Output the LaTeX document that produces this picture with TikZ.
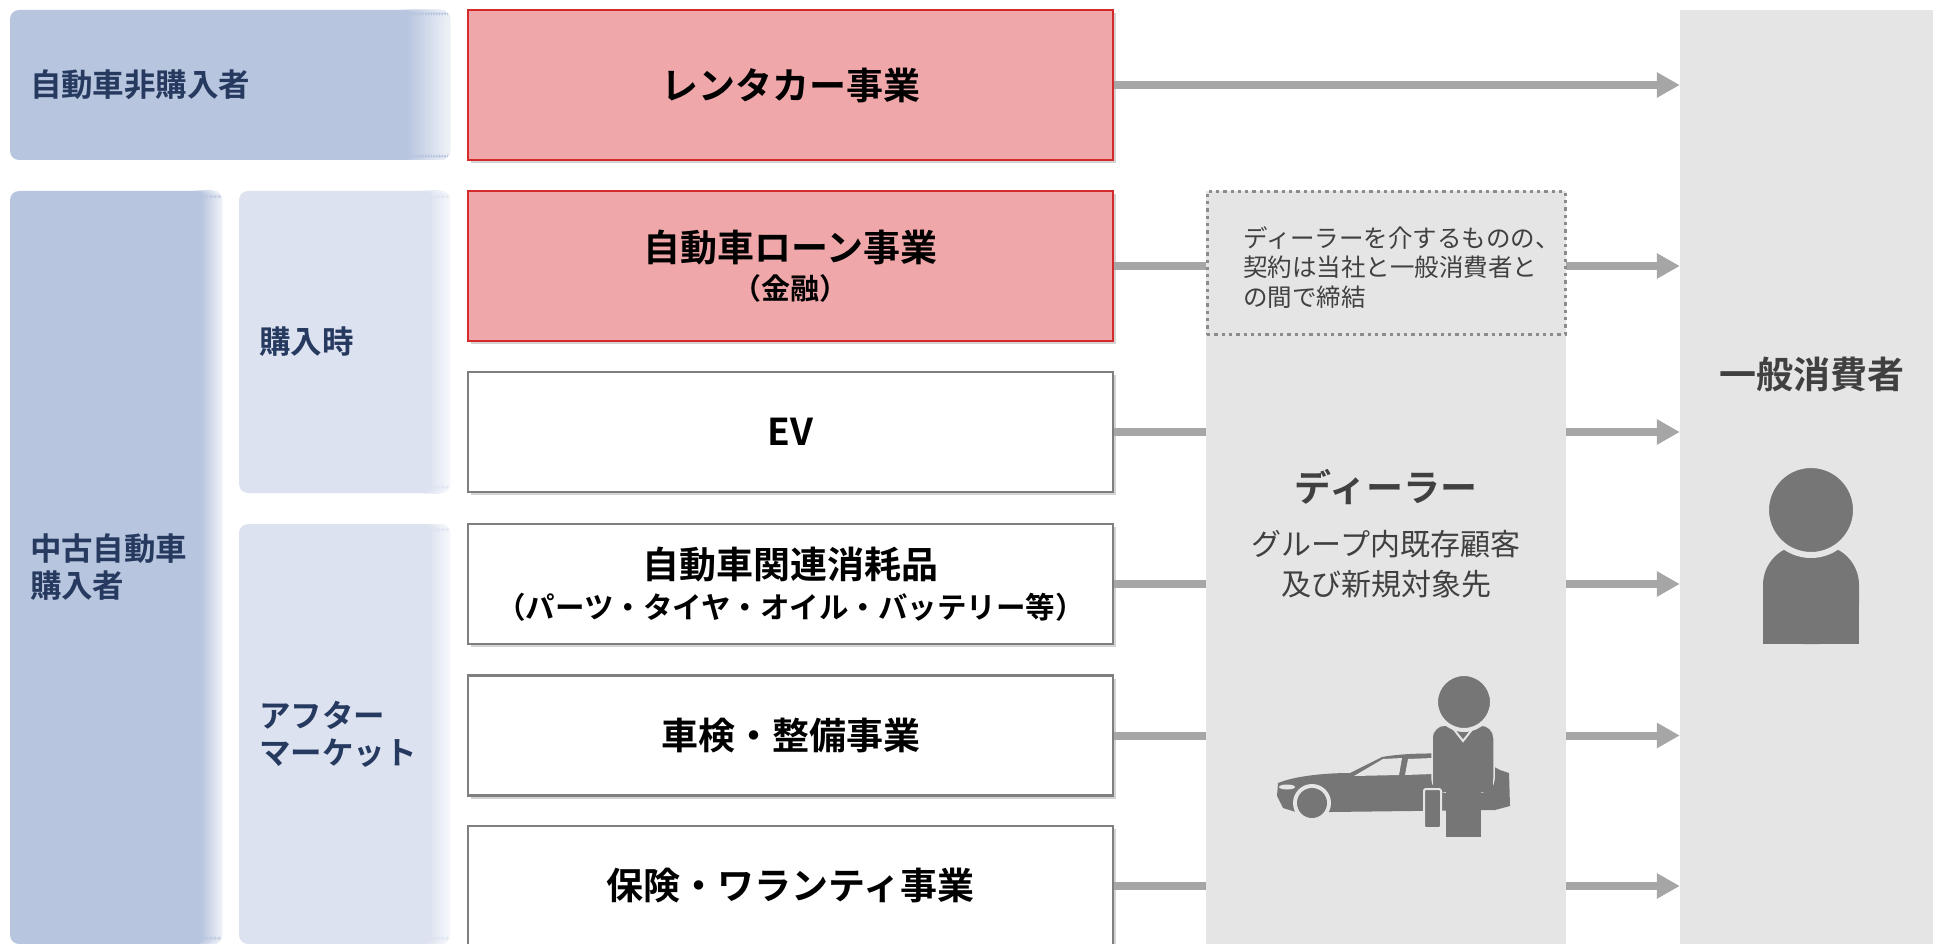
\documentclass[tikz,border=0pt]{standalone}
\usepackage{fontspec}
\usepackage{xcolor}
\usepackage{tikz}
\usetikzlibrary{arrows.meta, positioning, calc, shadows}
\setmainfont{Noto Sans CJK JP}[BoldFont={Noto Sans CJK JP Bold}]
\definecolor{navytext}{HTML}{26395F}
\definecolor{grpdark}{HTML}{B8C5DF}
\definecolor{grplight}{HTML}{DCE2F0}
\definecolor{bizred}{HTML}{EFA7AA}
\definecolor{bizrededge}{HTML}{D42A2A}
\definecolor{bizedge}{HTML}{7F7F7F}
\definecolor{colgray}{HTML}{E5E5E5}
\definecolor{flowgray}{HTML}{A6A6A6}
\definecolor{icongray}{HTML}{767676}
\definecolor{textgray}{HTML}{404040}
\newcommand{\pxfont}[2]{\fontsize{#1pt}{#2pt}\selectfont}

\begin{document}
\begin{tikzpicture}[x=1pt, y=-1pt,
    grp/.style={rectangle, rounded corners=9pt, fill=#1, align=left, inner xsep=20pt,
                font=\pxfont{31.5}{37}\bfseries\color{navytext},
                path picture={
                    \foreach \k [evaluate=\k as \mix using int(\k*5)] in {0,...,16}
                      \fill[white!\mix!#1]
                        ($(path picture bounding box.south west)!{0.9+\k*0.00625}!(path picture bounding box.south east)$)
                        rectangle ($(path picture bounding box.north west)!{0.9+(\k+1.4)*0.00625}!(path picture bounding box.north east)$);}},
    biz/.style={rectangle, draw=bizedge, line width=2.5pt, fill=white, align=center,
                minimum width=645pt, minimum height=120pt, font=\pxfont{37}{44}\bfseries,
                drop shadow={shadow xshift=3pt, shadow yshift=-3pt, opacity=0.35}},
    bizhot/.style={biz, draw=bizrededge, fill=bizred, minimum height=150pt},
    column/.style={rectangle, fill=colgray, inner sep=0pt},
    flow/.style={-{Triangle[length=23pt, width=24pt]}, line width=8pt, color=flowgray}
]
\useasboundingbox (0,0) rectangle (1933,944);

% customer groups
\node[grp=grpdark, minimum width=440pt, text width=400pt, minimum height=150pt] (nonbuyer) at (230,85) {自動車非購入者};
\node[grp=grpdark, minimum width=212pt, text width=172pt, minimum height=753pt] (usedbuyer) at (116,567.5) {中古自動車\\購入者};
\node[grp=grplight, minimum width=211pt, text width=171pt, minimum height=302pt] (atpurchase) at (344.5,342) {購入時};
\node[grp=grplight, minimum width=211pt, text width=171pt, minimum height=420pt] (aftermarket) at (344.5,734) {アフター\\マーケット};

% businesses
\node[bizhot] (rental) at (790.5,85) {レンタカー事業};
\node[bizhot] (loan) at (790.5,266) {自動車ローン事業\\[-6pt]{\pxfont{29}{33}（金融）}};
\node[biz] (ev) at (790.5,432) {EV};
\node[biz] (parts) at (790.5,584) {自動車関連消耗品\\[-4pt]{\pxfont{29.5}{35}（パーツ・タイヤ・オイル・バッテリー等）}};
\node[biz] (inspection) at (790.5,735.5) {車検・整備事業};
\node[biz] (insurance) at (790.5,886) {保険・ワランティ事業};

\node[column, minimum width=253pt, minimum height=934pt] (consumer) at (1806.5,477) {};

\draw[flow] (rental) -- (rental -| consumer.west);
\draw[flow] (loan) -- (loan -| consumer.west);
\draw[flow] (ev) -- (ev -| consumer.west);
\draw[flow] (parts) -- (parts -| consumer.west);
\draw[flow] (inspection) -- (inspection -| consumer.west);
\draw[flow] (insurance) -- (insurance -| consumer.west);

\node[column, minimum width=360pt, minimum height=753pt] (dealer) at (1386,567.5) {};
\node[rectangle, draw=bizedge!90, line width=3pt, dash pattern=on 3.3pt off 4pt,
      minimum width=358pt, minimum height=143pt] (note) at (1386,263) {};
\node[font=\pxfont{24.5}{29.5}, color=textgray, align=left, inner sep=0pt, anchor=west]
    (notetext) at (1243,267.5) {ディーラーを介するものの、\\契約は当社と一般消費者と\\の間で締結};
\node[font=\pxfont{37}{44}\bfseries, color=textgray] (dealername) at (1386,487) {ディーラー};
\node[font=\pxfont{30}{40}, color=textgray, align=center] (dealerclients) at (1386,564)
    {グループ内既存顧客\\及び新規対象先};

\node[font=\pxfont{37}{44}\bfseries, color=textgray] (consumername) at (1812,374) {一般消費者};

% consumer figure
\fill[icongray, rounded corners=40pt] (1763,545) rectangle (1859,644);
\fill[icongray] (1763,600) rectangle (1859,644);
\fill[icongray, draw=colgray, line width=6pt] (1811,510) circle[radius=45pt];

% dealer with car
\fill[icongray] (1277,796) -- (1278,783) .. controls (1295,776) and (1325,773) .. (1350,773)
    -- (1382,757) .. controls (1405,753) and (1430,753) .. (1470,754) -- (1500,770)
    -- (1509,773) -- (1510,806) -- (1495,810) -- (1330,812) -- (1296,812) -- (1283,808) -- cycle;
\fill[colgray] (1354,776) -- (1383,759) -- (1402,758) -- (1399,775) -- cycle;
\fill[colgray] (1408,759) -- (1433,758) -- (1433,774) -- (1405,775) -- cycle;
\fill[colgray] (1287,787) ellipse[x radius=8pt, y radius=2.5pt];
\fill[colgray] (1312,803) circle[radius=19pt];
\fill[icongray] (1312,803) circle[radius=15pt];
\fill[icongray, draw=colgray, line width=1.5pt, rounded corners=13pt] (1432,725) rectangle (1494,792);
\fill[icongray] (1433,770) rectangle (1493,792);
\fill[icongray] (1446,785) rectangle (1481,837);
\draw[colgray, line width=2pt] (1452,727) -- (1463,741) -- (1474,727);
\fill[icongray, draw=colgray, line width=4pt] (1464,702) circle[radius=28pt];
\fill[icongray, draw=colgray, line width=2pt, rounded corners=2pt] (1424,789) rectangle (1441,828);
\end{tikzpicture}
\end{document}
